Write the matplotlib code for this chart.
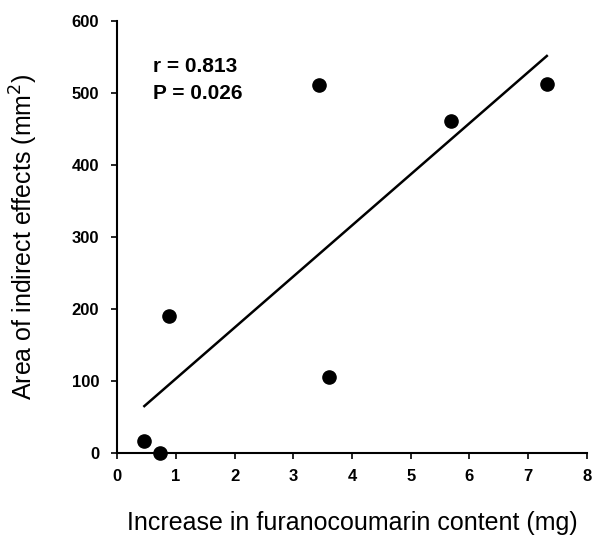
import numpy as np
import matplotlib
matplotlib.use("Agg")
import matplotlib.pyplot as plt
from matplotlib import font_manager as fm

plt.rcParams['font.family'] = ['Liberation Sans', 'DejaVu Sans']

# furanocoumarin increase (mg) vs area of indirect effects (mm2)
furano = np.array([0.46, 0.73, 0.88, 3.44, 3.61, 5.69, 7.32])
area = np.array([16, 0, 190, 510, 105, 460, 512])
r_text = "r = 0.813"
p_text = "P = 0.026"

# bold lookup tends to land on the Narrow face, so pick the file directly
bold_path = None
for f in fm.findSystemFonts():
    if f.endswith("LiberationSans-Bold.ttf"):
        bold_path = f
        break
if bold_path:
    def bold(size):
        return fm.FontProperties(fname=bold_path, size=size)
else:
    def bold(size):
        return fm.FontProperties(family='DejaVu Sans', weight='bold', size=size)

fig = plt.figure(figsize=(6.08, 5.44), dpi=100)
ax = fig.add_axes([0.193, 0.168, 0.772, 0.794])

ax.plot(furano, area, 'o', color='k', markersize=9.5, clip_on=False, zorder=3)

slope, icpt = np.polyfit(furano, area, 1)
xs = np.array([furano.min(), furano.max()])
ax.plot(xs, slope * xs + icpt, color='k', linewidth=1.8)

ax.text(0.6, 537, r_text, fontproperties=bold(15), va='center')
ax.text(0.6, 499, p_text, fontproperties=bold(15), va='center')

ax.set_xlim(0, 8)
ax.set_ylim(0, 600)
ax.set_xticks(range(0, 9))
ax.set_yticks(range(0, 601, 100))
for s in ['top', 'right']:
    ax.spines[s].set_visible(False)
for s in ['left', 'bottom']:
    ax.spines[s].set_linewidth(1.5)
ax.tick_params(direction='out', length=4, width=1.2)
ax.tick_params(axis='x', pad=8)
ax.tick_params(axis='y', pad=9)
for lab in ax.get_xticklabels() + ax.get_yticklabels():
    lab.set_fontproperties(bold(12))

ax.set_xlabel("Increase in furanocoumarin content (mg)", fontsize=18)
ax.set_ylabel("Area of indirect effects (mm$^2$)", fontsize=18)
ax.xaxis.set_label_coords(0.5, -0.135)
ax.yaxis.set_label_coords(-0.165, 0.5)

fig.savefig("out.png", dpi=100)
